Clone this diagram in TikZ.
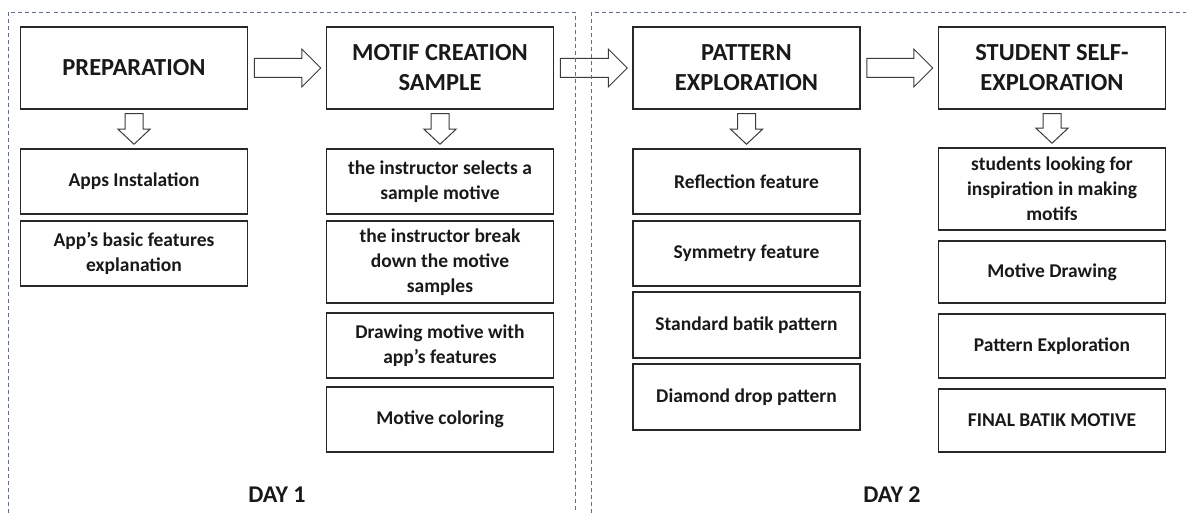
\documentclass[tikz,border=0pt]{standalone}
\usepackage{fontspec}
\setmainfont{Carlito}
\usetikzlibrary{calc}
\definecolor{dashc}{RGB}{95,110,135}
\definecolor{boxc}{RGB}{40,40,40}
\definecolor{arrc}{RGB}{60,60,60}
\definecolor{txtc}{RGB}{25,25,25}
\tikzset{
 box/.style={draw=boxc, line width=1.5pt, fill=white, text=txtc, align=center, inner sep=2pt,
   font=\bfseries\fontsize{19.5}{25}\selectfont, minimum width=227pt},
 titlebox/.style={box, minimum height=82pt, font=\bfseries\fontsize{24.5}{30}\selectfont},
 barrow/.style={draw=arrc, line width=1pt, fill=white, line join=miter},
 dayframe/.style={draw=dashc, line width=0.8pt, dash pattern=on 4pt off 3pt},
 daylabel/.style={font=\bfseries\fontsize{24}{28}\selectfont, text=txtc}
}
\newcommand{\RBlk}[2]{\draw[barrow] let \p1=(#1.east), \p2=(#2.west) in
  (\x1+6pt,\y1+9.5pt) -- (\x2-24pt,\y1+9.5pt) -- (\x2-24pt,\y1+19pt) -- (\x2-5pt,\y1)
  -- (\x2-24pt,\y1-19pt) -- (\x2-24pt,\y1-9.5pt) -- (\x1+6pt,\y1-9.5pt) -- cycle;}
\newcommand{\DBlk}[2]{\draw[barrow] let \p1=(#1.south), \p2=(#2.north) in
  (\x1-9pt,\y1-4pt) -- (\x1+9pt,\y1-4pt) -- (\x1+9pt,\y2+19pt) -- (\x1+16pt,\y2+19pt)
  -- (\x1,\y2+4pt) -- (\x1-16pt,\y2+19pt) -- (\x1-9pt,\y2+19pt) -- cycle;}
\begin{document}
\begin{tikzpicture}[x=1pt,y=-1pt]
\useasboundingbox[fill=white] (0,0) rectangle (1186,513);

% titles
\node[titlebox] (prep) at (134,68) {PREPARATION};
\node[titlebox] (motif) at (440,68) {MOTIF CREATION\\SAMPLE};
\node[titlebox] (patt) at (746.5,68) {PATTERN\\EXPLORATION};
\node[titlebox] (stud) at (1052,68) {STUDENT SELF-\\EXPLORATION};

% column 1
\node[box, minimum height=65pt] (a1) at (134,181.5) {Apps Instalation};
\node[box, minimum height=65pt] (a2) at (134,253.5) {App’s basic features\\explanation};

% column 2
\node[box, minimum height=65pt] (b1) at (440,181.5) {the instructor selects a\\sample motive};
\node[box, minimum height=82pt] (b2) at (440,262) {the instructor break\\down the motive\\samples};
\node[box, minimum height=65pt] (b3) at (440,345.5) {Drawing motive with\\app’s features};
\node[box, minimum height=65pt] (b4) at (440,419.5) {Motive coloring};

% column 3
\node[box, minimum height=65pt] (c1) at (746.5,181.5) {Reflection feature};
\node[box, minimum height=65pt] (c2) at (746.5,253.5) {Symmetry feature};
\node[box, minimum height=66pt] (c3) at (746.5,325) {Standard batik pattern};
\node[box, minimum height=66pt] (c4) at (746.5,397) {Diamond drop pattern};

% column 4
\node[box, minimum height=82pt] (d1) at (1052,189) {students looking for\\inspiration in making\\motifs};
\node[box, minimum height=62pt] (d2) at (1052,272) {Motive Drawing};
\node[box, minimum height=64pt] (d3) at (1052,346) {Pattern Exploration};
\node[box, minimum height=63pt] (d4) at (1052,420.5) {FINAL BATIK MOTIVE};

% block arrows
\RBlk{prep}{motif}
\RBlk{motif}{patt}
\RBlk{patt}{stud}
\DBlk{prep}{a1}
\DBlk{motif}{b1}
\DBlk{patt}{c1}
\DBlk{stud}{d1}

% day labels
\node[daylabel] (day1) at (277,495) {DAY 1};
\node[daylabel] (day2) at (892,495) {DAY 2};

% day frames
\draw[dayframe] (8,513) -- (8,12.5) -- (575,12.5) -- (575,513);
\draw[dayframe] (591,513) -- (591,12.5) -- (1186,12.5);
\end{tikzpicture}
\end{document}
